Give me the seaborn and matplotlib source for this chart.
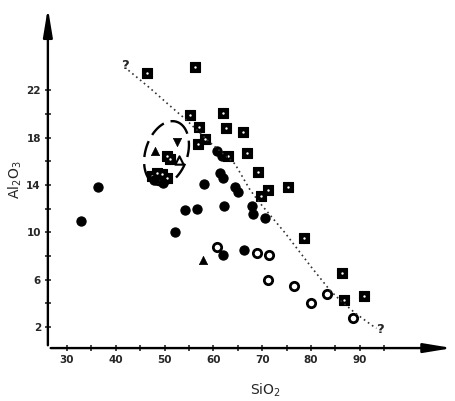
#importing required libraries
import numpy as np
import pandas as pd
import matplotlib
matplotlib.use("Agg")
import matplotlib.pyplot as plt
import seaborn as sns

# values (SiO2 vs Al2O3, wt %)
sq_x = [46.4, 56.2, 55.2, 61.9, 57.0, 62.6, 66.0, 56.8, 58.3, 63.0, 66.9, 69.1, 75.3, 71.2,
        69.7, 78.5, 86.3, 86.7, 90.8, 50.5, 51.1, 47.4, 48.5, 49.5, 50.5]
sq_y = [23.5, 24.0, 19.9, 20.1, 18.9, 18.8, 18.5, 17.5, 17.9, 16.5, 16.7, 15.1, 13.8, 13.6,
        13.1, 9.5, 6.6, 4.3, 4.6, 16.5, 16.2, 14.8, 15.0, 14.9, 14.6]

fc_x = [36.3, 32.9, 58.1, 60.7, 61.7, 61.3, 61.9, 64.4, 65.0, 54.2, 56.6, 62.2, 67.9, 68.1,
        70.5, 52.1, 61.9, 66.2, 49.7, 47.9]
fc_y = [13.8, 11.0, 14.1, 16.9, 16.5, 15.0, 14.6, 13.8, 13.4, 11.9, 12.0, 12.2, 12.2, 11.6,
        11.2, 10.0, 8.1, 8.5, 14.2, 14.4]

oc_x = [60.7, 68.9, 71.4, 71.2, 76.5, 80.0, 83.2, 88.6]
oc_y = [8.8, 8.3, 8.1, 6.0, 5.5, 4.0, 4.8, 2.8]

ft_x = [48.0, 57.9]
ft_y = [16.9, 7.7]
dt_x = [52.5]
dt_y = [17.6]
ot_x = [53.0]
ot_y = [16.1]

# hand drawn trend (dotted) and the two question marks at its ends
trend_x = [42.6, 47.0, 51.1, 54.2, 59.3, 64.4, 67.5, 69.5, 74.6, 80.0, 83.9, 85.9, 89.0, 92.3, 93.4]
trend_y = [23.7, 22.2, 20.7, 19.6, 17.6, 15.8, 13.6, 12.5, 10.0, 7.1, 5.1, 4.3, 3.2, 2.2, 1.9]
q_x = [41.9, 94.1]
q_y = [24.1, 1.8]

xticks = list(range(30, 100, 5))
xlabels = [str(t) if t % 10 == 0 else "" for t in xticks]
yticks = list(range(2, 24, 2))
ylabels = [str(t) if t % 4 == 2 else "" for t in yticks]

sns.set_style("ticks")
plt.rcParams["font.family"] = ["DejaVu Sans"]

fig = plt.figure(figsize=(4.56, 4.01), dpi=100)
ax = fig.add_axes([0.105, 0.132, 0.893, 0.855])

sns.lineplot(x=trend_x, y=trend_y, ax=ax, color="#333333", lw=1.2, linestyle=(0, (1, 2)), sort=False)

sns.scatterplot(x=sq_x, y=sq_y, ax=ax, marker="s", s=44, color="black", edgecolor="black", linewidth=0.8)
sns.scatterplot(x=sq_x, y=sq_y, ax=ax, marker="o", s=3, color="white", linewidth=0)
sns.scatterplot(x=fc_x, y=fc_y, ax=ax, marker="o", s=44, color="black", edgecolor="black", linewidth=0.8)
sns.scatterplot(x=oc_x, y=oc_y, ax=ax, marker="o", s=36, facecolor="white", edgecolor="black", linewidth=2.0)
sns.scatterplot(x=ft_x, y=ft_y, ax=ax, marker="^", s=36, color="black", edgecolor="black")
sns.scatterplot(x=dt_x, y=dt_y, ax=ax, marker="v", s=36, color="black", edgecolor="black")
sns.scatterplot(x=ot_x, y=ot_y, ax=ax, marker="^", s=36, facecolor="white", edgecolor="black", linewidth=1.5)

for qx, qy in zip(q_x, q_y):
    ax.text(qx, qy, "?", ha="center", va="center", fontsize=9.5, fontweight="heavy")

# dashed ellipse round the triangle group (tilted, drawn in screen proportions)
cx, cy, phi = 50.4, 16.7, np.radians(18)
t = np.linspace(0, 2 * np.pi, 200)
a, b = 33, 21
ex = cx + (a * np.cos(t) * np.sin(phi) + b * np.sin(t) * np.cos(phi)) / 4.883
ey = cy + (a * np.cos(t) * np.cos(phi) - b * np.sin(t) * np.sin(phi)) / 11.85
ax.plot(ex, ey, color="black", lw=1.7, linestyle=(0, (7, 3)))

ax.set_xlim(26.1, 109.5)
ax.set_ylim(0.23, 29.2)
ax.set_xticks(xticks)
ax.set_xticklabels(xlabels, fontsize=7.5, fontweight="heavy")
ax.set_yticks(yticks)
ax.set_yticklabels(ylabels, fontsize=7.5, fontweight="heavy")
ax.tick_params(direction="inout", length=4, width=1.2, pad=3)
for s in ["top", "right", "left", "bottom"]:
    ax.spines[s].set_visible(False)

# axes as arrows
ax.annotate("", xy=(1.0, 0), xytext=(0, 0), xycoords="axes fraction",
            arrowprops=dict(arrowstyle="-|>,head_length=1.7,head_width=0.28", color="black", lw=1.7))
ax.annotate("", xy=(0, 1.0), xytext=(0, 0), xycoords="axes fraction",
            arrowprops=dict(arrowstyle="-|>,head_length=1.7,head_width=0.28", color="black", lw=1.7))

fig.text(265 / 456, 1 - 390 / 401, r"SiO$_2$", ha="center", va="center", fontsize=10)
fig.text(15 / 456, 1 - 180 / 401, r"Al$_2$O$_3$", ha="center", va="center", fontsize=10, rotation=90)

plt.savefig("out.png", dpi=100)
